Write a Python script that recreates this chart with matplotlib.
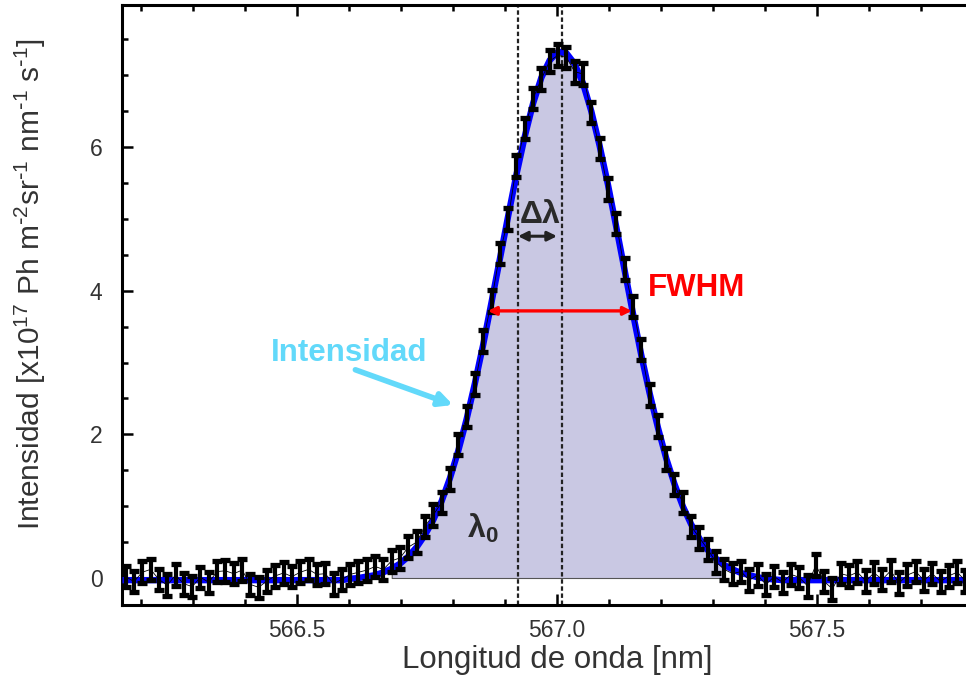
import numpy as np
import matplotlib.pyplot as plt
from matplotlib.ticker import MultipleLocator

plt.rcParams['font.family'] = ['Liberation Sans', 'DejaVu Sans']
plt.rcParams['mathtext.default'] = 'regular'

# longitud de onda [nm]
wl = [566.170, 566.186, 566.202, 566.218, 566.234, 566.250, 566.266, 566.282,
      566.298, 566.314, 566.330, 566.346, 566.362, 566.378, 566.394, 566.410,
      566.426, 566.442, 566.458, 566.474, 566.490, 566.506, 566.522, 566.538,
      566.554, 566.570, 566.586, 566.602, 566.618, 566.634, 566.650, 566.666,
      566.682, 566.698, 566.714, 566.730, 566.746, 566.762, 566.778, 566.794,
      566.810, 566.826, 566.842, 566.858, 566.874, 566.890, 566.906, 566.922,
      566.938, 566.954, 566.970, 566.986, 567.002, 567.018, 567.034, 567.050,
      567.066, 567.082, 567.098, 567.114, 567.130, 567.146, 567.162, 567.178,
      567.194, 567.210, 567.226, 567.242, 567.258, 567.274, 567.290, 567.306,
      567.322, 567.338, 567.354, 567.370, 567.386, 567.402, 567.418, 567.434,
      567.450, 567.466, 567.482, 567.498, 567.514, 567.530, 567.546, 567.562,
      567.578, 567.594, 567.610, 567.626, 567.642, 567.658, 567.674, 567.690,
      567.706, 567.722, 567.738, 567.754, 567.770, 567.786, 567.802, 567.818]

# intensidad medida
inten = [0.02, -0.05, 0.08, 0.12, -0.02, -0.10, 0.04, -0.08,
         -0.12, 0.01, -0.06, 0.09, 0.10, 0.06, 0.11, -0.09,
         -0.13, -0.04, 0.03, 0.07, 0.02, 0.08, 0.12, 0.05,
         0.06, -0.08, -0.02, 0.05, 0.08, 0.11, 0.16, 0.12,
         0.24, 0.28, 0.43, 0.50, 0.72, 0.88, 1.05, 1.38,
         1.86, 2.25, 2.70, 3.30, 3.86, 4.52, 5.00, 5.74,
         6.26, 6.68, 6.95, 7.20, 7.28, 7.25, 7.05, 7.02,
         6.48, 5.98, 5.42, 4.94, 4.30, 3.78, 3.18, 2.55,
         2.12, 1.66, 1.30, 1.05, 0.72, 0.56, 0.40, 0.22,
         0.12, 0.06, 0.09, -0.03, 0.04, -0.09, 0.02, -0.06,
         0.05, 0.01, -0.11, 0.18, -0.05, -0.15, 0.06, 0.03,
         0.08, -0.04, 0.07, -0.02, 0.10, -0.07, 0.04, 0.09,
         -0.03, 0.06, -0.05, 0.03, 0.08, -0.04, 0.05, -0.02]

# ajuste gaussiano
fit = [-0.03, -0.03, -0.03, -0.03, -0.03, -0.03, -0.03, -0.03,
       -0.03, -0.03, -0.03, -0.03, -0.03, -0.03, -0.03, -0.03,
       -0.03, -0.03, -0.03, -0.03, -0.03, -0.03, -0.03, -0.03,
       -0.03, -0.03, -0.03, -0.01, 0.00, 0.02, 0.04, 0.08,
       0.13, 0.20, 0.30, 0.43, 0.60, 0.81, 1.07, 1.39,
       1.77, 2.21, 2.71, 3.25, 3.84, 4.44, 5.04, 5.62,
       6.15, 6.61, 6.97, 7.21, 7.33, 7.31, 7.16, 6.89,
       6.50, 6.02, 5.48, 4.89, 4.29, 3.69, 3.11, 2.58,
       2.10, 1.67, 1.31, 1.00, 0.75, 0.55, 0.39, 0.27,
       0.18, 0.12, 0.07, 0.04, 0.01, -0.01, -0.02, -0.03,
       -0.03, -0.03, -0.03, -0.03, -0.03, -0.03, -0.03, -0.03,
       -0.03, -0.03, -0.03, -0.03, -0.03, -0.03, -0.03, -0.03,
       -0.03, -0.03, -0.03, -0.03, -0.03, -0.03, -0.03, -0.03]

err = 0.15
lambda0 = 566.925
lambda_pico = 567.01
fwhm_izq = 566.867
fwhm_der = 567.144

wl = np.array(wl)
inten = np.array(inten)
fit = np.array(fit)

fig = plt.figure(figsize=(9.66, 6.78), dpi=100)
ax = fig.add_axes([122/966, 73/678, 870/966, 600/678])

m = (wl >= 566.68) & (wl <= 567.325)
ax.fill_between(wl[m], fit[m], 0, facecolor='#c9c8e3', edgecolor='#555555',
                lw=0.8, zorder=1)

ax.axvline(lambda0, color='#222222', lw=1.6, dashes=(2.0, 1.2), zorder=2)
ax.axvline(lambda_pico, color='#222222', lw=1.6, dashes=(2.0, 1.2), zorder=2)

ax.plot(wl, fit, color='#0000ff', lw=4.6, zorder=3)
ax.plot(wl, inten, color='k', lw=0.6, zorder=4)
ax.errorbar(wl, inten, yerr=err, fmt='none', ecolor='k', elinewidth=3.0,
            capsize=3.6, capthick=3.8, zorder=5)

# anotaciones
ax.annotate('', xy=(lambda0, 4.76), xytext=(lambda_pico - 0.01, 4.76),
            arrowprops=dict(arrowstyle='<|-|>', color='#222222', lw=2.2,
                            mutation_scale=14, shrinkA=0, shrinkB=0), zorder=6)
ax.text(566.967, 5.05, 'Δλ', ha='center', va='center', fontsize=23,
        fontweight='bold', color='#2a2a2a', zorder=6)

ax.annotate('', xy=(fwhm_izq, 3.72), xytext=(fwhm_der, 3.72),
            arrowprops=dict(arrowstyle='<|-|>', color='#ff0000', lw=2.4,
                            mutation_scale=12, shrinkA=0, shrinkB=0), zorder=6)
ax.text(567.175, 4.04, 'FWHM', ha='left', va='center', fontsize=22.5,
        fontweight='bold', color='#ff0000')

ax.text(566.6, 3.14, 'Intensidad', ha='center', va='center', fontsize=22.5,
        fontweight='bold', color='#62d9fa')
ax.annotate('', xy=(566.8, 2.41), xytext=(566.612, 2.90),
            arrowprops=dict(arrowstyle='-|>', color='#62d9fa', lw=4.0,
                            mutation_scale=20, shrinkA=0, shrinkB=0))

ax.text(566.858, 0.69, 'λ$_0$', ha='center', va='center', fontsize=23,
        fontweight='bold', color='#2a2a2a', zorder=6)

ax.set_xlim(566.163, 567.837)
ax.set_ylim(-0.376, 7.98)

ax.xaxis.set_major_locator(MultipleLocator(0.5))
ax.xaxis.set_minor_locator(MultipleLocator(0.1))
ax.yaxis.set_major_locator(MultipleLocator(2))
ax.yaxis.set_minor_locator(MultipleLocator(0.5))
ax.xaxis.set_major_formatter(plt.FormatStrFormatter('%.1f'))
ax.yaxis.set_major_formatter(plt.FormatStrFormatter('%d'))

ax.tick_params(which='both', direction='in', top=True, right=False,
               width=1.8, colors='k', labelcolor='#333333', labelsize=16.5)
ax.tick_params(which='major', length=8, pad=10)
ax.tick_params(which='minor', length=4)
ax.tick_params(axis='y', which='major', pad=14)

for s in ax.spines.values():
    s.set_linewidth(2.2)
ax.spines['right'].set_visible(False)

ax.set_xlabel('Longitud de onda [nm]', fontsize=22.5, color='#333333',
              labelpad=2)
ax.set_ylabel(r'Intensidad [x10$^{17}$ Ph m$^{\text{-}2}$sr$^{\text{-}1}$ '
              r'nm$^{\text{-}1}$ s$^{\text{-}1}$]',
              fontsize=21.5, color='#333333')
ax.yaxis.set_label_coords(-0.085, 0.535)

fig.savefig('out.png', dpi=100)
